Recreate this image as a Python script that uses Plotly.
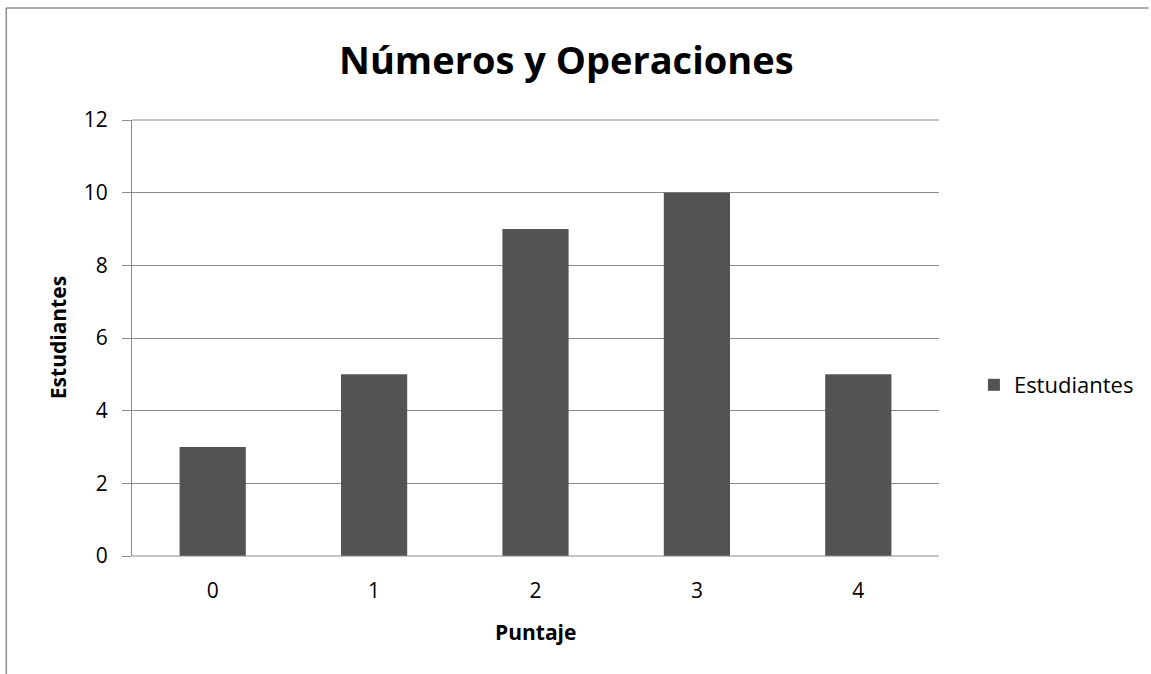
import plotly.graph_objects as go

categories = ["0", "1", "2", "3", "4"]
estudiantes = [3, 5, 9, 10, 5]
y_ticks = [0, 2, 4, 6, 8, 10, 12]

W, H = 1151, 674
L, R, T, B = 132, 210, 120, 118
pw, ph = W - L - R, H - T - B

def px_x(p):
    return (p - L) / pw

def px_y(p):
    return (H - B - p) / ph

FONT = "Open Sans"
GRID = "#8a8a8a"

fig = go.Figure()
fig.add_trace(go.Bar(
    x=categories, y=estudiantes, name="Estudiantes",
    marker=dict(color="#535353", line=dict(width=0)),
    width=0.41,
))

fig.update_layout(
    width=W, height=H,
    margin=dict(l=L, r=R, t=T, b=B),
    paper_bgcolor="white", plot_bgcolor="white",
    font=dict(family=FONT, color="#000000", size=21),
    showlegend=True,
    legend=dict(x=px_x(976), y=px_y(385), xanchor="left", yanchor="middle",
                font=dict(family=FONT, size=22), bgcolor="rgba(0,0,0,0)"),
    xaxis=dict(type="category", showgrid=False, showline=False, ticks="",
               zeroline=False, ticklabelstandoff=20,
               tickfont=dict(family=FONT, size=21)),
    yaxis=dict(range=[0, 12], tickvals=y_ticks, showgrid=True,
               gridcolor=GRID, gridwidth=1, zeroline=False,
               showline=True, linecolor=GRID, linewidth=1,
               ticks="outside", ticklen=9, tickcolor=GRID,
               ticklabelstandoff=10,
               tickfont=dict(family=FONT, size=21)),
    annotations=[
        dict(text="<b>Números y Operaciones</b>", xref="paper", yref="paper",
             x=px_x(568), y=px_y(59), xanchor="center", yanchor="middle",
             showarrow=False, font=dict(family=FONT, size=38)),
        dict(text="<b>Estudiantes</b>", xref="paper", yref="paper",
             x=px_x(58), y=px_y(338), xanchor="center", yanchor="middle",
             textangle=-90, showarrow=False, font=dict(family=FONT, size=21)),
        dict(text="<b>Puntaje</b>", xref="paper", yref="paper",
             x=px_x(537), y=px_y(632), xanchor="center", yanchor="middle",
             showarrow=False, font=dict(family=FONT, size=21)),
    ],
    shapes=[
        dict(type="line", xref="paper", yref="paper",
             x0=px_x(6), x1=px_x(W), y0=px_y(8), y1=px_y(8),
             line=dict(color="#8c8c8c", width=1.5)),
        dict(type="line", xref="paper", yref="paper",
             x0=px_x(6), x1=px_x(6), y0=px_y(8), y1=px_y(H),
             line=dict(color="#8c8c8c", width=1.5)),
        dict(type="line", xref="paper", yref="paper",
             x0=0, x1=1, y0=0, y1=0,
             line=dict(color=GRID, width=1)),
        dict(type="line", xref="paper", yref="paper",
             x0=0, x1=1, y0=1, y1=1,
             line=dict(color=GRID, width=1)),
    ],
)

fig.write_html("out.html")
